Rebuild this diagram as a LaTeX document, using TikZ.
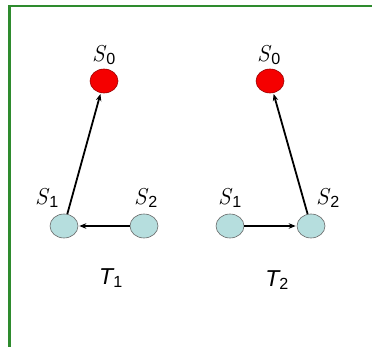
\documentclass[tikz,border=0pt]{standalone}
\usepackage{fontspec}
\newfontfamily\arialf{Liberation Sans}
\usetikzlibrary{arrows.meta,shapes.geometric}
\definecolor{frame}{RGB}{46,139,46}
\definecolor{lblue}{RGB}{182,222,222}
\definecolor{redn}{RGB}{245,0,0}
\tikzset{
  x=1pt,y=-1pt,
  st/.style={ellipse,minimum width=28pt,minimum height=24pt,inner sep=0pt},
  redst/.style={st,draw=red!60!black,fill=redn,line width=0.6pt},
  bluest/.style={st,draw=gray!80!black,fill=lblue,line width=0.6pt},
  lab/.style={font=\fontsize{23}{27}\selectfont,inner sep=0pt},
  arr/.style={-{Stealth[length=7pt,width=5.5pt]},line width=1.8pt,shorten >=1pt},
}
\newcommand{\slab}[1]{\textit{S}\textsubscript{\arialf #1}}
\begin{document}
\begin{tikzpicture}
\useasboundingbox (0,0) rectangle (372,347);
\begin{scope}
\clip (0,0) rectangle (372,347);
\draw[frame,line width=2.5pt] (9.5,6) rectangle (380,355);
\end{scope}
% T1
\node[redst] (aS0) at (104,81) {};
\node[bluest] (aS1) at (64,226) {};
\node[bluest] (aS2) at (144,226) {};
\node[lab] (laS0) at (104,55) {\slab{0}};
\node[lab] (laS1) at (47,198) {\slab{1}};
\node[lab] (laS2) at (146,198) {\slab{2}};
\node[lab] (laT) at (111,278) {\arialf\itshape T\textsubscript{\upshape 1}};
\draw[arr] (aS1) -- (aS0);
\draw[arr] (aS2) -- (aS1);
% T2
\node[redst] (bS0) at (270,81) {};
\node[bluest] (bS1) at (230,226) {};
\node[bluest] (bS2) at (311,226) {};
\node[lab] (lbS0) at (269,55) {\slab{0}};
\node[lab] (lbS1) at (230,198) {\slab{1}};
\node[lab] (lbS2) at (328,198) {\slab{2}};
\node[lab] (lbT) at (277,280) {\arialf\itshape T\textsubscript{\upshape 2}};
\draw[arr] (bS1) -- (bS2);
\draw[arr] (bS2) -- (bS0);
\end{tikzpicture}
\end{document}
